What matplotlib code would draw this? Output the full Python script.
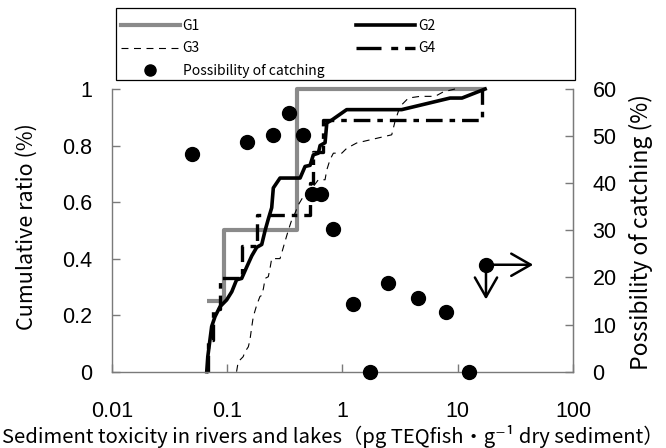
import matplotlib
matplotlib.use("Agg")
import matplotlib.pyplot as plt
from matplotlib.lines import Line2D
from matplotlib.patches import Rectangle

plt.rcParams['font.family'] = ['Noto Sans CJK JP', 'DejaVu Sans']
plt.rcParams['lines.scale_dashes'] = False

# ---- data ----
g1_x = [0.067, 0.094, 0.405, 17.3]
g1_y = [0.25, 0.5, 1.0, 1.0]

g2_x = [0.0667, 0.0681, 0.0736, 0.0787, 0.0869, 0.0993, 0.110, 0.121, 0.134, 0.148,
        0.164, 0.181, 0.200, 0.214, 0.228, 0.244, 0.252, 0.288, 0.430, 0.475, 0.525,
        0.560, 0.619, 0.641, 0.708, 0.733, 0.809, 1.09, 3.27, 8.59, 10.9, 17.3]
g2_y = [0, 0.053, 0.16, 0.195, 0.23, 0.254, 0.283, 0.325, 0.33, 0.37, 0.41, 0.44,
        0.45, 0.50, 0.54, 0.58, 0.65, 0.685, 0.685, 0.726, 0.73, 0.767, 0.773, 0.80,
        0.81, 0.88, 0.89, 0.927, 0.927, 0.968, 0.968, 1.0]

g3_x = [0.121, 0.125, 0.138, 0.143, 0.153, 0.158, 0.164, 0.169, 0.181, 0.193, 0.200,
        0.207, 0.214, 0.228, 0.236, 0.244, 0.288, 0.298, 0.318, 0.340, 0.364, 0.389,
        0.415, 0.459, 0.525, 0.560, 0.619, 0.708, 0.733, 0.782, 0.836, 0.989, 1.09,
        1.33, 2.68, 2.86, 3.16, 3.74, 4.72, 6.37, 7.52, 9.49]
g3_y = [0, 0.035, 0.053, 0.07, 0.088, 0.112, 0.16, 0.195, 0.236, 0.266, 0.27, 0.295,
        0.33, 0.336, 0.366, 0.40, 0.40, 0.42, 0.46, 0.50, 0.537, 0.561, 0.59, 0.62,
        0.632, 0.655, 0.679, 0.679, 0.714, 0.75, 0.773, 0.773, 0.79, 0.809, 0.838,
        0.885, 0.938, 0.968, 0.974, 0.974, 0.99, 1.0]

g4_x = [0.068, 0.068, 0.0751, 0.0861, 0.134, 0.181, 0.525, 0.552, 0.681, 16.2]
g4_y = [0, 0.111, 0.222, 0.333, 0.444, 0.556, 0.667, 0.778, 0.889, 1.0]

catch_x = [0.0494, 0.148, 0.252, 0.347, 0.459, 0.550, 0.653, 0.836, 1.245, 1.74,
           2.51, 4.56, 7.93, 12.6, 17.6]
catch_y = [46.2, 48.7, 50.3, 55.0, 50.3, 37.7, 37.7, 30.3, 14.3, 0, 18.9, 15.6,
           12.75, 0, 22.7]

x_ticks = [0.01, 0.1, 1, 10, 100]
x_ticklabels = ['0.01', '0.1', '1', '10', '100']
y_ticks = [0, 0.2, 0.4, 0.6, 0.8, 1]
y_ticklabels = ['0', '0.2', '0.4', '0.6', '0.8', '1']
y2_ticks = [0, 10, 20, 30, 40, 50, 60]

num_font = 'Liberation Sans'

# ---- figure ----
fig = plt.figure(figsize=(6.66, 4.48), dpi=100)
ax = fig.add_axes([111.7 / 666, 1 - 371.7 / 448, (573 - 111.7) / 666, (371.7 - 89) / 448])
ax.set_xscale('log')
ax.set_xlim(0.01, 100)
ax.set_ylim(0, 1)

gray_c = '#8a8a8a'
l1, = ax.plot(g1_x, g1_y, drawstyle='steps-post', color=gray_c, lw=3.0, clip_on=False,
              solid_capstyle='butt')
l3, = ax.plot(g3_x, g3_y, color='black', lw=0.8, dashes=(5, 4), clip_on=False)
l4, = ax.plot(g4_x, g4_y, drawstyle='steps-post', color='black', lw=2.4,
              dashes=(12, 5, 4, 5), clip_on=False)
l2, = ax.plot(g2_x, g2_y, color='black', lw=2.6, clip_on=False)

ax.set_xticks(x_ticks)
ax.set_xticklabels(x_ticklabels, fontfamily=num_font)
ax.minorticks_off()
ax.set_yticks(y_ticks)
ax.set_yticklabels(y_ticklabels, fontfamily=num_font)
spc = '#7a7a7a'
ax.spines['top'].set_visible(False)
for s in ['left', 'bottom', 'right']:
    ax.spines[s].set_color(spc)
    ax.spines[s].set_linewidth(1.0)
ax.tick_params(axis='x', direction='in', length=6, width=1, color=spc,
               labelsize=15.5, pad=21)
ax.tick_params(axis='y', direction='in', length=6, width=1, color=spc,
               labelsize=15.5, pad=14)

ax2 = ax.twinx()
ax2.set_ylim(0, 60)
ax2.set_yticks(y2_ticks)
ax2.set_yticklabels([str(v) for v in y2_ticks], fontfamily=num_font)
ax2.spines['top'].set_visible(False)
ax2.spines['right'].set_color(spc)
ax2.spines['left'].set_visible(False)
ax2.spines['bottom'].set_visible(False)
ax2.tick_params(axis='y', direction='in', length=6, width=1, color=spc,
                labelsize=15.5, pad=14)
sc = ax2.scatter(catch_x, catch_y, s=100, color='black', zorder=5, clip_on=False)

# arrows from the last point
arrow_kw = dict(arrowstyle='<-, head_length=0.7, head_width=0.4',
                lw=1.8, color='black', shrinkA=0, shrinkB=0, mutation_scale=20)
ax2.annotate('', xy=(catch_x[-1], catch_y[-1]), xytext=(34, 0), textcoords='offset points',
             arrowprops=arrow_kw)
ax2.annotate('', xy=(catch_x[-1], catch_y[-1]), xytext=(0, -25), textcoords='offset points',
             arrowprops=arrow_kw)

# labels
fig.text(27 / 666, 1 - 227 / 448, 'Cumulative ratio (%)', rotation=90,
         ha='center', va='center', fontsize=15.5)
fig.text(641 / 666, 1 - 232 / 448, 'Possibility of catching (%)', rotation=90,
         ha='center', va='center', fontsize=16.5)
fig.text(333 / 666, 1 - 436 / 448,
         'Sediment toxicity in rivers and lakes（pg TEQfish・g⁻¹ dry sediment）',
         ha='center', va='center', fontsize=14.6)

# legend
fig.patches.append(Rectangle((116 / 666, 1 - 80 / 448), (575 - 116) / 666, (80 - 8) / 448,
                             transform=fig.transFigure, fill=False, edgecolor='black',
                             linewidth=0.9))
h1 = Line2D([], [], color=gray_c, lw=3.0)
h2 = Line2D([], [], color='black', lw=2.6)
h3 = Line2D([], [], color='black', lw=0.8, dashes=(5, 4))
h4 = Line2D([], [], color='black', lw=2.4, dashes=(18, 7, 5, 5))
h5 = Line2D([], [], color='black', lw=0, marker='o', markersize=8)
leg = fig.legend([h1, h3, h5, h2, h4], ['G1', 'G3', 'Possibility of catching', 'G2', 'G4'],
                 loc='upper left', ncol=2,
                 bbox_to_anchor=(118 / 666, 1 - 16 / 448),
                 borderaxespad=0, fontsize=10, handlelength=4.25, handletextpad=0.2,
                 labelspacing=0.62, columnspacing=2.3, frameon=False, borderpad=0.2)

fig.savefig('out.png', dpi=100)
